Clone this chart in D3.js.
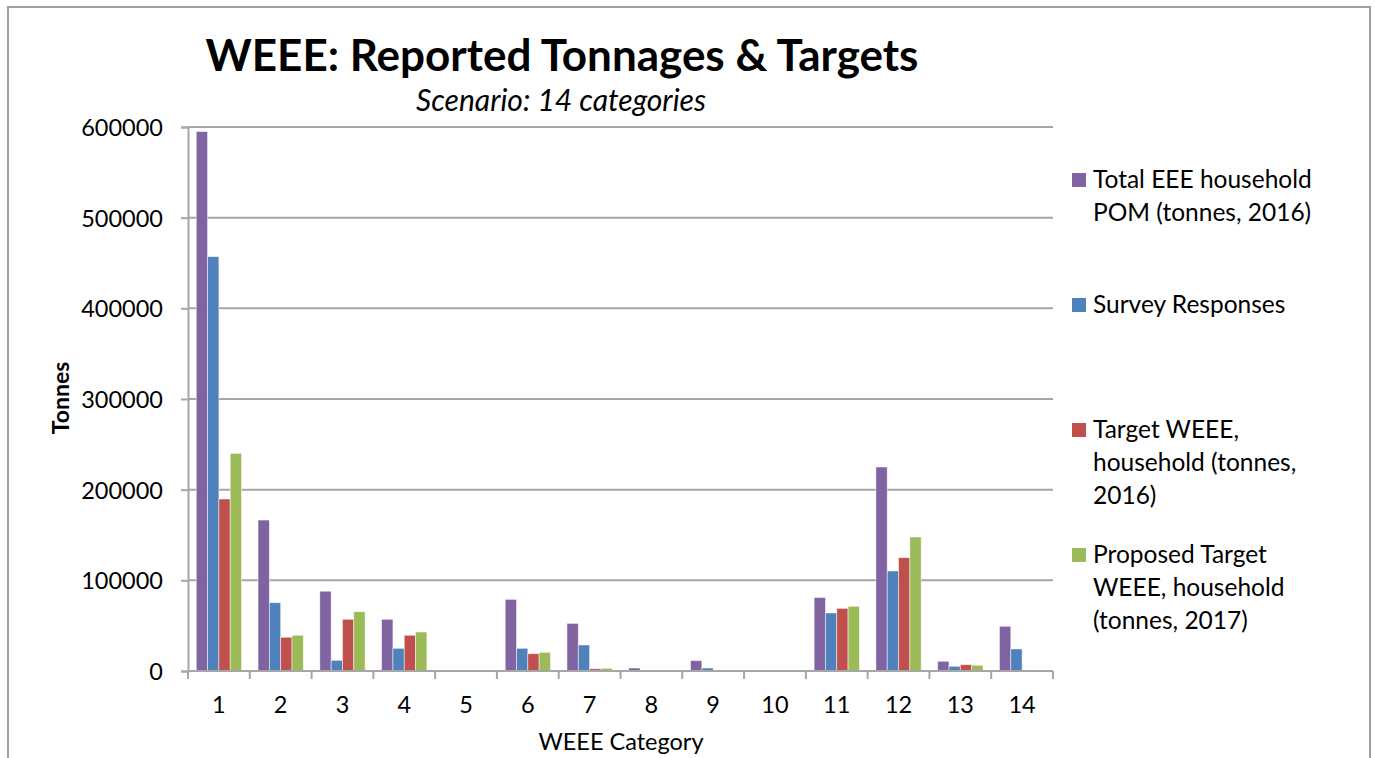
<!DOCTYPE html>
<html>
<head>
<meta charset="utf-8">
<script src="https://cdn.jsdelivr.net/npm/d3@7"></script>
<style>
  body { margin: 0; background: #fff; }
  svg text { font-family: Lato, "Open Sans", sans-serif; fill: #000; }
</style>
</head>
<body>
<svg id="chart" width="1375" height="758"></svg>
<script>
// data
const categories = ['1','2','3','4','5','6','7','8','9','10','11','12','13','14']
const seriesNames = [
    ['Total EEE household', 'POM (tonnes, 2016)'],
    ['Survey Responses'],
    ['Target WEEE,', 'household (tonnes,', '2016)'],
    ['Proposed Target', 'WEEE, household', '(tonnes, 2017)']
]
const totalPom   = [595000, 166500, 88000, 57000, 300, 79000, 52500, 3300, 11400, 0, 81000, 225000, 10700, 49300]
const survey     = [457000, 75300, 11800, 25000, 400, 25000, 28700, 0, 3300, 0, 64000, 110300, 5200, 24300]
const targetWeee = [189700, 37200, 57000, 39400, 0, 19100, 2500, 0, 0, 0, 69100, 125000, 7000, 0]
const proposed   = [240000, 39400, 65400, 43000, 0, 20600, 3000, 0, 0, 0, 71300, 147800, 6300, 0]
const yTicks = [0, 100000, 200000, 300000, 400000, 500000, 600000]
const colors = ['#8064A2', '#4F81BD', '#C0504D', '#9BBB59']

const series = [totalPom, survey, targetWeee, proposed]
const svg = d3.select('#chart')

// outer chart frame
svg.append('rect')
    .attr('x', 8).attr('y', 7)
    .attr('width', 1362).attr('height', 800)
    .attr('fill', 'none')
    .attr('stroke', '#a0a0a0')
    .attr('stroke-width', 2)

const plot = {left: 188, right: 1053, top: 127, bottom: 671}

const x0 = d3.scaleBand().domain(categories).range([plot.left, plot.right])
const x1 = d3.scaleBand().domain(d3.range(4)).range([0, x0.bandwidth()]).paddingOuter(0.73)
const y = d3.scaleLinear().domain([0, 600000]).range([plot.bottom, plot.top])

// gridlines
svg.append('g').selectAll('line')
    .data(yTicks.filter(d => d > 0))
    .enter().append('line')
    .attr('x1', plot.left).attr('x2', plot.right)
    .attr('y1', d => y(d)).attr('y2', d => y(d))
    .attr('stroke', '#a6a6a6')
    .attr('stroke-width', 2)

// y axis
const yAxis = svg.append('g')
    .attr('transform', `translate(${plot.left},0)`)
    .call(d3.axisLeft(y).tickValues(yTicks).tickSize(7).tickPadding(18).tickFormat(d3.format('d')))
yAxis.select('.domain').attr('stroke', '#a6a6a6').attr('stroke-width', 2)
yAxis.selectAll('.tick line').attr('stroke', '#a6a6a6').attr('stroke-width', 2)
yAxis.selectAll('.tick text').style('font-size', '23.5px').attr('dy', '0.36em')

// bars
const groups = svg.append('g').selectAll('g')
    .data(categories)
    .enter().append('g')
    .attr('transform', d => `translate(${x0(d)},0)`)
groups.selectAll('rect')
    .data((d, i) => series.map((s, k) => ({k: k, v: s[i]})))
    .enter().append('rect')
    .attr('x', d => x1(d.k))
    .attr('width', x1.bandwidth())
    .attr('y', d => y(d.v))
    .attr('height', d => plot.bottom - y(d.v))
    .attr('fill', d => colors[d.k])
    .attr('stroke', 'rgba(255,255,255,0.6)')
    .attr('stroke-width', 0.8)

// x axis with ticks on category boundaries
svg.append('line')
    .attr('x1', plot.left).attr('x2', plot.right)
    .attr('y1', plot.bottom).attr('y2', plot.bottom)
    .attr('stroke', '#a6a6a6').attr('stroke-width', 2)
svg.append('g').selectAll('line')
    .data(categories.concat(['end']))
    .enter().append('line')
    .attr('x1', (d, i) => plot.left + i * x0.step())
    .attr('x2', (d, i) => plot.left + i * x0.step())
    .attr('y1', plot.bottom).attr('y2', plot.bottom + 8)
    .attr('stroke', '#a6a6a6').attr('stroke-width', 2)
svg.append('g').selectAll('text')
    .data(categories)
    .enter().append('text')
    .attr('x', d => x0(d) + x0.bandwidth() / 2)
    .attr('y', 713)
    .attr('text-anchor', 'middle')
    .style('font-size', '23.5px')
    .text(d => d)

// axis titles
svg.append('text')
    .attr('x', 621).attr('y', 750)
    .attr('text-anchor', 'middle')
    .style('font-size', '23.5px')
    .text('WEEE Category')
svg.append('text')
    .attr('transform', 'translate(69,398) rotate(-90)')
    .attr('text-anchor', 'middle')
    .style('font-size', '23px')
    .style('font-weight', 'bold')
    .text('Tonnes')

// titles
svg.append('text')
    .attr('x', 562).attr('y', 71)
    .attr('text-anchor', 'middle')
    .style('font-size', '44px')
    .style('font-weight', 'bold')
    .text('WEEE: Reported Tonnages & Targets')
svg.append('text')
    .attr('x', 561).attr('y', 111)
    .attr('text-anchor', 'middle')
    .style('font-size', '30px')
    .style('font-style', 'italic')
    .text('Scenario: 14 categories')

// legend
const legendTop = [173, 298, 423, 548]
const legend = svg.append('g').selectAll('g')
    .data(seriesNames)
    .enter().append('g')
    .attr('transform', (d, i) => `translate(1072,${legendTop[i]})`)
legend.append('rect')
    .attr('width', 14).attr('height', 14)
    .attr('fill', (d, i) => colors[i])
legend.append('text')
    .attr('x', 21).attr('y', 15)
    .style('font-size', '24.5px')
    .selectAll('tspan')
    .data(d => d)
    .enter().append('tspan')
    .attr('x', 21)
    .attr('dy', (d, i) => i === 0 ? 0 : 33)
    .text(d => d)
</script>
</body>
</html>
